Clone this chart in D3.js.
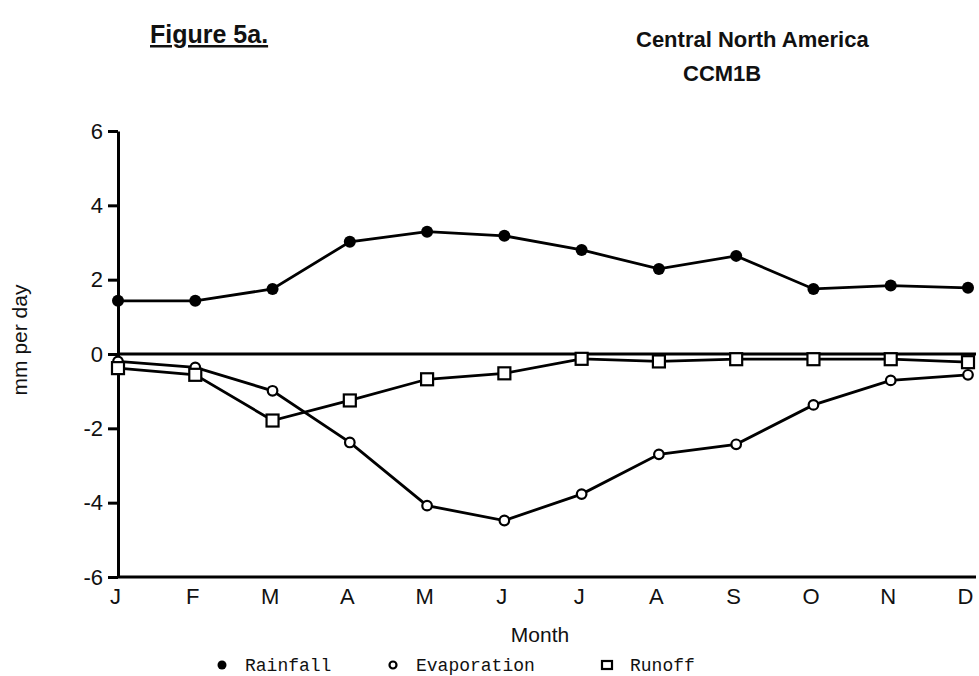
<!DOCTYPE html>
<html>
<head>
<meta charset="utf-8">
<script src="https://cdn.jsdelivr.net/npm/d3@7"></script>
<style>
  body { margin: 0; background: #fff; }
  svg { display: block; }
  .title { font-family: "Liberation Sans Narrow", "Arial Narrow", "Liberation Sans", sans-serif; font-weight: bold; fill: #111; }
  .axis text { font-family: "Liberation Sans", Arial, sans-serif; font-size: 22px; fill: #111; }
  .legend text { font-family: "Liberation Mono", "Courier New", monospace; font-size: 18px; fill: #111; }
</style>
</head>
<body>
<svg id="viz"></svg>
<script>
// Size of the page, the whole chart fills it.
const width = 979, height = 676;

// Month letters along the bottom axis, one per data point.
const months = ["J", "F", "M", "A", "M", "J", "J", "A", "S", "O", "N", "D"];

// Values, mm per day.
const rainfall    = [1.43, 1.43, 1.75, 3.02, 3.29, 3.18, 2.80, 2.29, 2.64, 1.75, 1.84, 1.78];
const evaporation = [-0.20, -0.36, -0.99, -2.38, -4.08, -4.48, -3.77, -2.70, -2.43, -1.37, -0.71, -0.56];
const runoff      = [-0.38, -0.56, -1.79, -1.25, -0.68, -0.52, -0.13, -0.20, -0.14, -0.14, -0.14, -0.22];

const yTicks = [-6, -4, -2, 0, 2, 4, 6];

const svg = d3.select("#viz")
    .attr("width", width)
    .attr("height", height);

// Scales: months are evenly spaced, first one sits on the y axis.
const x = d3.scaleLinear().domain([0, months.length - 1]).range([118, 968]);
const y = d3.scaleLinear().domain([-6, 6]).range([577, 131]);

// Headings at the top of the page.
svg.append("text").attr("class", "title")
    .attr("x", 150).attr("y", 43)
    .attr("font-size", 25)
    .attr("text-decoration", "underline")
    .text("Figure 5a.");

svg.append("text").attr("class", "title")
    .attr("x", 636).attr("y", 47)
    .attr("font-size", 22)
    .text("Central North America");

svg.append("text").attr("class", "title")
    .attr("x", 683).attr("y", 81)
    .attr("font-size", 22)
    .text("CCM1B");

// Left axis with ticks every 2 mm, plain hyphen for negatives.
const yAxis = svg.append("g").attr("class", "axis")
    .attr("transform", "translate(118,0)")
    .call(d3.axisLeft(y).tickValues(yTicks).tickFormat(d => String(d))
        .tickSize(10).tickSizeOuter(0).tickPadding(5));

// Bottom axis only carries the month letters.
const xAxis = svg.append("g").attr("class", "axis")
    .attr("transform", "translate(0," + y(-6) + ")")
    .call(d3.axisBottom(x).tickValues(d3.range(months.length))
        .tickFormat(i => months[i]).tickSize(0).tickPadding(11));

xAxis.select(".domain").remove();
xAxis.selectAll("text").attr("dx", -3);

svg.selectAll(".axis path, .axis line")
    .attr("stroke", "#000")
    .attr("stroke-width", 3);

// Bottom axis line and the zero line, both run to the right edge.
svg.append("line")
    .attr("x1", 118).attr("x2", 976)
    .attr("y1", y(-6)).attr("y2", y(-6))
    .attr("stroke", "#000").attr("stroke-width", 3);

svg.append("line")
    .attr("x1", 118).attr("x2", 976)
    .attr("y1", y(0)).attr("y2", y(0))
    .attr("stroke", "#000").attr("stroke-width", 3);

// Axis titles.
svg.append("text")
    .attr("transform", "translate(27,340) rotate(-90)")
    .attr("text-anchor", "middle")
    .style("font-family", "Liberation Sans, Arial, sans-serif")
    .style("font-size", "21px")
    .style("fill", "#111")
    .text("mm per day");

svg.append("text")
    .attr("x", 540).attr("y", 642)
    .attr("text-anchor", "middle")
    .style("font-family", "Liberation Sans, Arial, sans-serif")
    .style("font-size", "21px")
    .style("fill", "#111")
    .text("Month");

// One line per series.
const line = d3.line()
    .x((d, i) => x(i))
    .y(d => y(d));

const series = [
    { name: "Rainfall", values: rainfall, mark: "dot" },
    { name: "Evaporation", values: evaporation, mark: "circle" },
    { name: "Runoff", values: runoff, mark: "square" }
];

series.forEach(function(s) {
    svg.append("path")
        .datum(s.values)
        .attr("d", line)
        .attr("fill", "none")
        .attr("stroke", "#000")
        .attr("stroke-width", 2.8);
});

// Markers drawn on top of the lines.
function drawMark(sel, mark, big) {
    if (mark === "dot") {
        sel.append("circle").attr("r", big ? 6 : 4.5).attr("fill", "#000");
    } else if (mark === "circle") {
        sel.append("circle").attr("r", big ? 4.8 : 3.5)
            .attr("fill", "#fff").attr("stroke", "#000").attr("stroke-width", 2.2);
    } else {
        const s = big ? 12 : 10;
        sel.append("rect").attr("x", -s / 2).attr("y", big ? -s / 2 : -s / 2 + 1)
            .attr("width", s).attr("height", big ? s : s - 2)
            .attr("fill", "#fff").attr("stroke", "#000").attr("stroke-width", 2.2);
    }
}

series.forEach(function(s) {
    svg.append("g").selectAll("g")
        .data(s.values)
        .enter().append("g")
        .attr("transform", (d, i) => "translate(" + x(i) + "," + y(d) + ")")
        .each(function() { drawMark(d3.select(this), s.mark, true); });
});

// Legend under the month title.
const legendX = [222, 393, 607];
const legend = svg.append("g").attr("class", "legend");
series.forEach(function(s, i) {
    const g = legend.append("g").attr("transform", "translate(" + legendX[i] + ",665)");
    drawMark(g, s.mark, false);
    g.append("text").attr("x", 23).attr("y", 6).text(s.name);
});
</script>
</body>
</html>
